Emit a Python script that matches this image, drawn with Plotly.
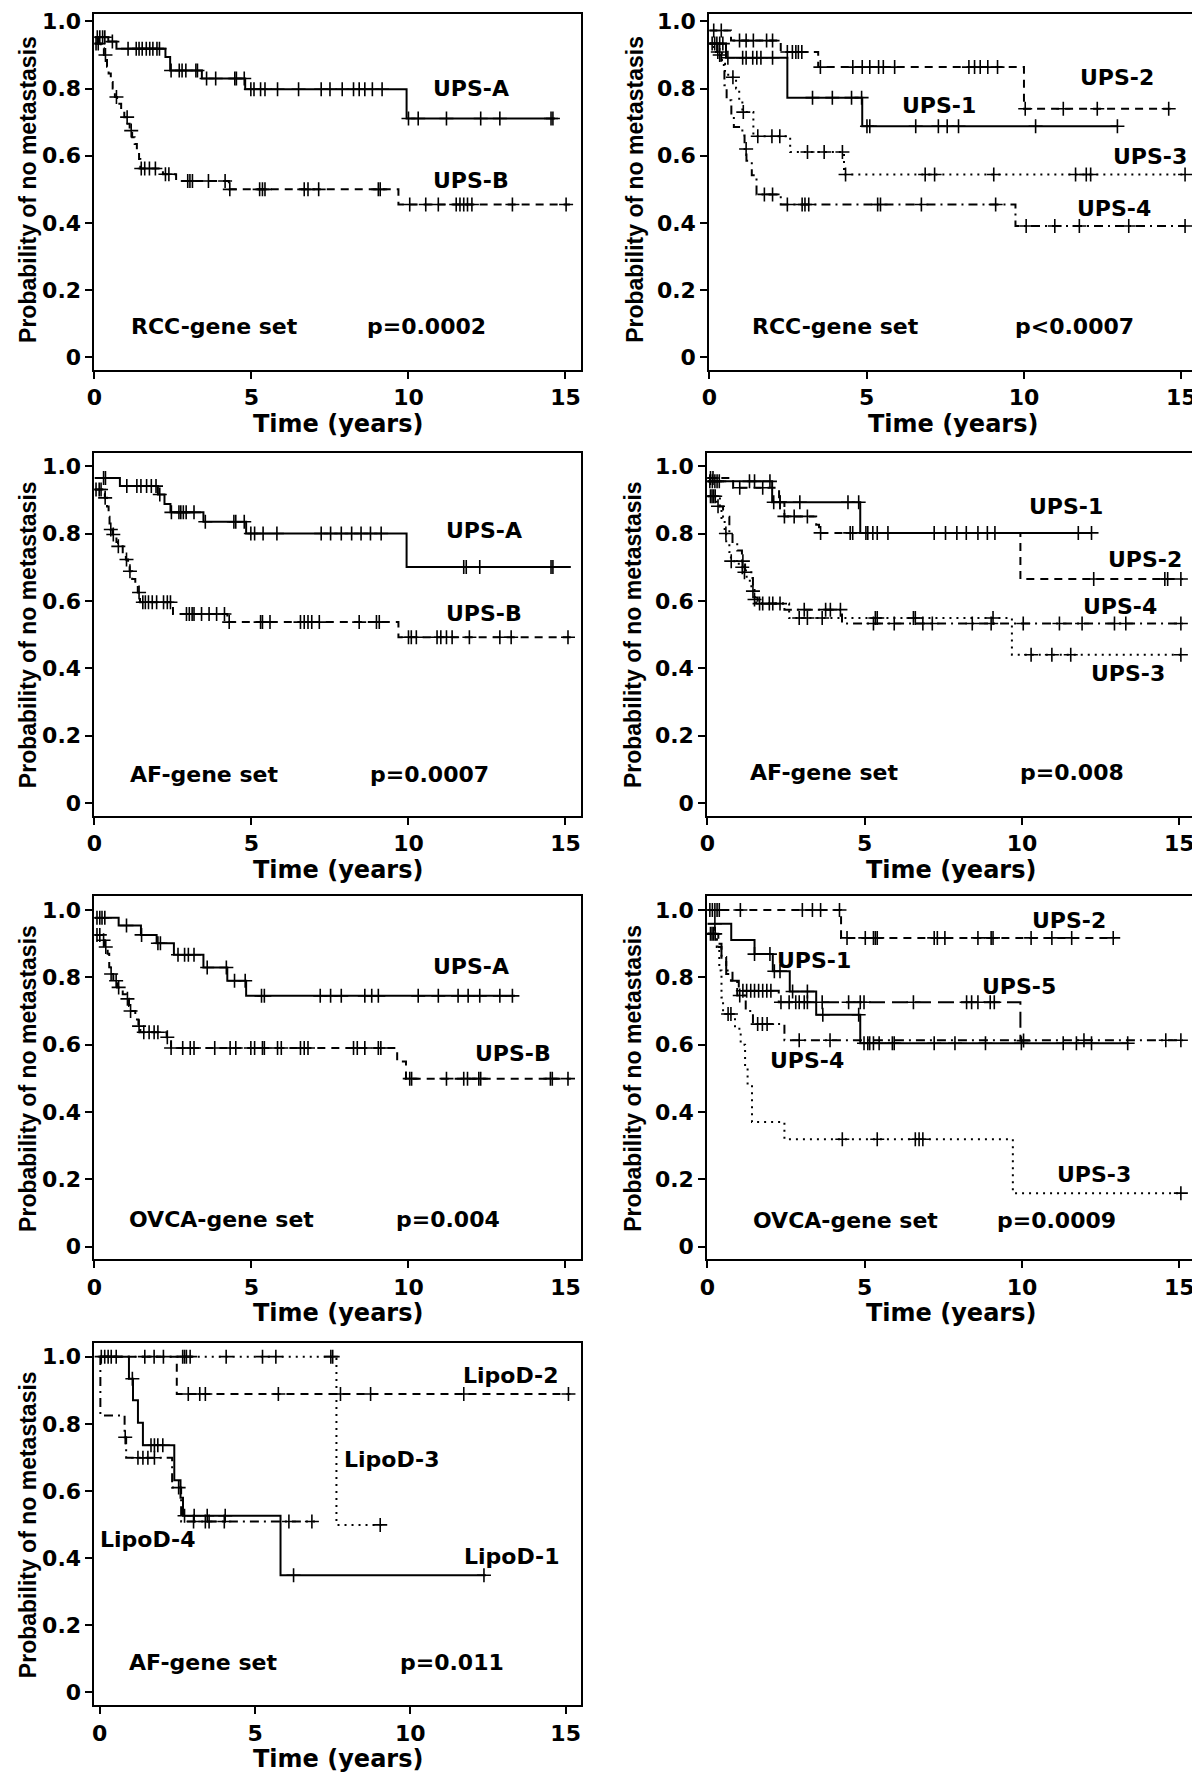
import numpy as np
import plotly.graph_objects as go

# ------------------------------------------------------------------
# DATA  (Kaplan-Meier steps: event times, survival after event,
#        censoring times, end of follow-up)
# ------------------------------------------------------------------
# Panel 1 : RCC-gene set, 2 groups
P1_A_TIME = [0, 0.44, 0.70, 2.26, 2.41, 3.42, 4.80, 9.94]
P1_A_SURV = [0.953, 0.940, 0.919, 0.894, 0.854, 0.830, 0.798, 0.711]
P1_A_CENS = [0.09, 0.17, 0.26, 0.33, 0.57, 1.07, 1.33, 1.42, 1.52, 1.65, 1.76, 1.86, 1.99, 2.07,
             2.44, 2.70, 2.79, 2.91, 3.23, 3.28, 3.57, 3.86, 4.47, 4.52, 4.77, 4.98, 5.08, 5.29,
             5.43, 5.83, 6.50, 7.22, 7.50, 7.89, 8.25, 8.43, 8.61, 8.85, 9.16, 10.0, 10.31, 11.21,
             12.30, 12.91, 14.54, 14.60]
P1_A_END = 14.66
P1_B_TIME = [0, 0.20, 0.30, 0.40, 0.45, 0.52, 0.58, 0.65, 0.72, 0.85, 0.95, 1.05, 1.12, 1.20,
             1.28, 1.35, 1.42, 1.46, 2.18, 2.60, 4.28, 9.68]
P1_B_SURV = [0.934, 0.920, 0.900, 0.865, 0.845, 0.820, 0.800, 0.775, 0.755, 0.735, 0.715, 0.695,
             0.675, 0.655, 0.635, 0.615, 0.590, 0.562, 0.545, 0.525, 0.500, 0.455]
P1_B_CENS = [0.05, 0.12, 0.35, 0.70, 1.04, 1.17, 1.49, 1.60, 1.75, 1.94, 2.26, 2.37, 2.97, 3.04,
             3.12, 3.63, 4.16, 4.31, 5.26, 5.35, 5.43, 6.68, 6.80, 7.14, 9.04, 9.10, 10.04, 10.55,
             10.95, 11.52, 11.64, 11.76, 11.88, 12.02, 13.31, 15.02]
P1_B_END = 15.14

# Panel 2 : RCC-gene set, 4 groups
P2_1_TIME = [0, 0.53, 2.48, 4.86]
P2_1_SURV = [0.934, 0.892, 0.773, 0.688]
P2_1_CENS = [0.09, 0.17, 0.24, 0.33, 0.43, 0.59, 1.06, 1.17, 1.38, 1.51, 1.64, 2.01, 3.28, 3.91,
             4.52, 4.84, 5.01, 5.10, 6.56, 7.28, 7.56, 7.92, 10.37, 12.97]
P2_1_END = 12.99
P2_2_TIME = [0, 0.69, 2.27, 3.46, 10.0]
P2_2_SURV = [0.973, 0.943, 0.909, 0.864, 0.740]
P2_2_CENS = [0.14, 0.38, 0.96, 1.17, 1.40, 1.82, 2.01, 2.48, 2.64, 2.75, 2.83, 2.94, 3.53, 4.56,
             4.86, 5.10, 5.38, 5.53, 5.89, 8.25, 8.43, 8.61, 8.85, 9.16, 10.04, 11.25, 12.33, 14.60]
P2_2_END = 14.66
P2_3_TIME = [0, 0.15, 0.40, 0.50, 0.60, 0.85, 0.95, 1.05, 1.40, 2.57, 4.28]
P2_3_SURV = [0.934, 0.909, 0.874, 0.850, 0.834, 0.800, 0.770, 0.730, 0.658, 0.611, 0.544]
P2_3_CENS = [0.27, 0.75, 1.08, 1.54, 1.99, 2.24, 3.12, 3.65, 4.23, 4.33, 6.86, 7.16, 9.04, 11.64,
             11.98, 12.12, 15.12]
P2_3_END = 15.12
P2_4_TIME = [0, 0.25, 0.38, 0.48, 0.55, 0.70, 0.78, 1.05, 1.12, 1.18, 1.35, 1.50, 2.27, 9.73]
P2_4_SURV = [0.934, 0.900, 0.870, 0.810, 0.765, 0.720, 0.686, 0.660, 0.620, 0.585, 0.542, 0.485,
             0.455, 0.391]
P2_4_CENS = [0.33, 1.17, 1.75, 2.01, 2.48, 2.95, 3.04, 3.16, 5.35, 5.44, 6.74, 9.10, 10.07, 10.98,
             11.76, 13.33, 15.12]
P2_4_END = 15.14

# Panel 3 : AF-gene set, 2 groups
P3_A_TIME = [0, 0.81, 2.02, 2.23, 2.42, 3.47, 4.83, 9.94]
P3_A_SURV = [0.965, 0.941, 0.916, 0.888, 0.863, 0.835, 0.800, 0.701]
P3_A_CENS = [0.29, 0.35, 1.03, 1.35, 1.48, 1.66, 1.81, 1.96, 2.08, 2.45, 2.69, 2.75, 2.83, 2.92,
             3.17, 3.53, 4.44, 4.50, 4.77, 4.98, 5.10, 5.37, 5.81, 7.22, 7.52, 7.86, 8.19, 8.49,
             8.79, 9.13, 11.76, 11.84, 12.27, 14.54, 14.60]
P3_A_END = 15.17
P3_B_TIME = [0, 0.25, 0.33, 0.40, 0.45, 0.48, 0.51, 0.58, 0.70, 0.75, 0.90, 1.00, 1.07, 1.12,
             1.20, 1.30, 1.38, 1.45, 2.50, 4.23, 9.68]
P3_B_SURV = [0.931, 0.918, 0.906, 0.880, 0.850, 0.830, 0.812, 0.797, 0.775, 0.762, 0.740, 0.723,
             0.700, 0.688, 0.665, 0.645, 0.625, 0.596, 0.561, 0.537, 0.492]
P3_B_CENS = [0.05, 0.15, 0.21, 0.34, 0.52, 0.60, 0.76, 1.02, 1.13, 1.42, 1.54, 1.62, 1.72, 1.84,
             1.98, 2.20, 2.32, 2.42, 2.93, 3.02, 3.11, 3.17, 3.41, 3.65, 3.89, 4.14, 4.29, 5.29,
             5.35, 5.59, 6.56, 6.68, 6.80, 6.92, 7.16, 8.43, 8.98, 9.07, 10.0, 10.09, 10.25, 10.91,
             11.03, 11.21, 11.39, 11.94, 12.91, 13.27, 15.08]
P3_B_END = 15.17

# Panel 4 : AF-gene set, 4 groups
P4_1_TIME = [0, 2.06, 4.86]
P4_1_SURV = [0.955, 0.893, 0.802]
P4_1_CENS = [0.08, 0.16, 0.24, 0.31, 0.38, 1.34, 1.50, 1.99, 2.11, 2.31, 2.94, 4.47, 4.81, 5.04,
             5.26, 5.74, 7.21, 7.93, 8.60, 9.14, 11.79, 12.21]
P4_1_END = 12.21
P4_2_TIME = [0, 0.82, 2.28, 2.45, 3.46, 3.55, 9.95]
P4_2_SURV = [0.965, 0.936, 0.893, 0.851, 0.826, 0.802, 0.665]
P4_2_CENS = [0.10, 0.18, 1.03, 1.76, 2.31, 2.45, 2.76, 3.18, 3.60, 4.54, 4.62, 5.10, 5.40, 7.57,
             8.23, 8.90, 12.28, 14.54, 14.63, 15.05]
P4_2_END = 15.11
P4_3_TIME = [0, 0.30, 0.45, 0.55, 0.60, 0.70, 0.75, 1.00, 1.13, 1.25, 1.40, 1.50, 1.55, 2.60, 9.68]
P4_3_SURV = [0.911, 0.881, 0.840, 0.800, 0.774, 0.745, 0.718, 0.700, 0.685, 0.660, 0.629, 0.604,
             0.592, 0.549, 0.440]
P4_3_CENS = [0.10, 0.20, 0.34, 0.59, 0.76, 1.11, 1.18, 1.45, 1.50, 1.66, 1.97, 2.92, 3.18, 3.65,
             5.34, 5.40, 6.55, 6.61, 9.08, 10.29, 10.95, 11.55, 15.05]
P4_3_END = 15.11
P4_4_TIME = [0, 0.40, 0.50, 0.70, 0.80, 0.95, 1.10, 1.20, 1.40, 1.45, 1.50, 1.60, 2.45, 4.28]
P4_4_SURV = [0.911, 0.880, 0.850, 0.800, 0.775, 0.750, 0.718, 0.690, 0.668, 0.640, 0.610, 0.592,
             0.574, 0.533]
P4_4_CENS = [0.15, 0.25, 1.13, 1.76, 2.08, 2.31, 3.08, 3.76, 3.91, 4.23, 5.28, 5.94, 6.85, 7.15,
             8.42, 9.02, 10.04, 11.19, 11.91, 12.94, 13.30, 15.05]
P4_4_END = 15.11

# Panel 5 : OVCA-gene set, 2 groups
P5_A_TIME = [0, 0.77, 1.48, 1.98, 2.53, 3.47, 4.23, 4.83]
P5_A_SURV = [0.977, 0.954, 0.926, 0.901, 0.867, 0.829, 0.790, 0.745]
P5_A_CENS = [0.08, 0.17, 0.24, 0.33, 1.02, 1.50, 2.02, 2.10, 2.66, 2.87, 2.99, 3.17, 3.59, 4.20,
             4.46, 4.80, 5.32, 5.41, 7.19, 7.52, 7.86, 8.61, 8.83, 9.04, 10.31, 10.95, 11.58,
             11.90, 12.27, 12.91, 13.31]
P5_A_END = 13.39
P5_B_TIME = [0, 0.25, 0.33, 0.42, 0.47, 0.52, 0.60, 0.72, 0.90, 1.02, 1.10, 1.14, 1.30, 1.40,
             1.46, 2.30, 2.44, 9.64, 9.92]
P5_B_SURV = [0.926, 0.910, 0.890, 0.870, 0.830, 0.810, 0.790, 0.770, 0.750, 0.736, 0.715, 0.700,
             0.675, 0.655, 0.637, 0.622, 0.590, 0.550, 0.499]
P5_B_CENS = [0.08, 0.17, 0.29, 0.36, 0.53, 0.69, 0.77, 1.05, 1.15, 1.42, 1.57, 1.74, 1.90, 2.02,
             2.32, 2.44, 2.81, 3.05, 3.17, 3.83, 4.32, 4.50, 4.98, 5.10, 5.35, 5.41, 5.83, 5.95,
             6.56, 6.68, 6.80, 8.25, 8.37, 8.61, 9.04, 9.12, 10.04, 10.10, 11.21, 11.76, 11.88,
             12.24, 12.30, 14.52, 14.58, 15.08]
P5_B_END = 15.17

# Panel 6 : OVCA-gene set, 5 groups
P6_1_TIME = [0, 0.76, 1.50, 2.08, 2.62, 3.46, 4.86]
P6_1_SURV = [0.959, 0.911, 0.869, 0.818, 0.758, 0.689, 0.604]
P6_1_CENS = [0.24, 1.50, 1.99, 2.13, 2.31, 2.71, 3.18, 3.67, 4.81, 4.98, 5.10, 5.16, 5.28, 5.46,
             5.88, 5.94, 7.21, 7.87, 8.84, 9.98, 11.31, 11.73, 12.21, 13.36]
P6_1_END = 13.39
P6_2_TIME = [0, 4.25]
P6_2_SURV = [1.0, 0.917]
P6_2_CENS = [0.08, 0.16, 0.24, 0.31, 0.38, 1.05, 3.02, 3.34, 3.60, 4.20, 4.44, 5.02, 5.28, 5.34,
             5.40, 7.21, 7.31, 7.55, 8.60, 9.02, 9.08, 10.29, 10.95, 11.58, 12.90]
P6_2_END = 12.94
P6_3_TIME = [0, 0.30, 0.38, 0.45, 0.50, 0.88, 1.06, 1.20, 1.28, 1.42, 2.45, 9.71]
P6_3_SURV = [0.929, 0.890, 0.820, 0.740, 0.691, 0.647, 0.600, 0.530, 0.480, 0.370, 0.319, 0.159]
P6_3_CENS = [0.66, 0.75, 4.29, 5.40, 6.61, 6.73, 6.85, 15.05]
P6_3_END = 15.05
P6_4_TIME = [0, 0.30, 0.45, 0.60, 0.80, 0.95, 1.22, 1.45, 2.45]
P6_4_SURV = [0.929, 0.900, 0.860, 0.820, 0.790, 0.746, 0.700, 0.661, 0.613]
P6_4_CENS = [0.10, 0.20, 1.03, 1.60, 1.75, 1.90, 2.92, 3.90, 11.97, 14.57, 15.05]
P6_4_END = 15.11
P6_5_TIME = [0, 0.35, 0.45, 0.60, 0.75, 1.00, 2.27, 9.95]
P6_5_SURV = [0.929, 0.890, 0.850, 0.810, 0.790, 0.760, 0.726, 0.612]
P6_5_CENS = [0.15, 0.25, 1.13, 1.25, 1.38, 1.50, 1.63, 1.76, 1.89, 2.02, 2.34, 2.60, 2.81, 2.92,
             3.08, 3.18, 3.65, 4.49, 4.86, 4.98, 6.55, 8.24, 8.40, 8.60, 8.99, 9.12, 10.05]
P6_5_END = 10.05

# Panel 7 : AF-gene set, liposarcoma groups
P7_1_TIME = [0, 0.94, 1.07, 1.23, 1.39, 2.40, 2.60, 2.68, 5.82]
P7_1_SURV = [1.0, 0.934, 0.870, 0.803, 0.736, 0.632, 0.580, 0.526, 0.349]
P7_1_CENS = [0.05, 0.16, 0.27, 0.37, 0.53, 1.05, 1.65, 1.76, 1.87, 2.03, 2.73, 3.04, 3.46, 4.04,
             6.24, 12.37]
P7_1_END = 12.43
P7_2_TIME = [0, 2.48]
P7_2_SURV = [1.0, 0.889]
P7_2_CENS = [1.45, 1.75, 2.05, 2.85, 3.22, 3.40, 5.75, 7.75, 8.72, 11.72, 15.09]
P7_2_END = 15.15
P7_3_TIME = [0, 7.62]
P7_3_SURV = [1.0, 0.499]
P7_3_CENS = [2.67, 2.73, 2.79, 2.91, 4.07, 5.24, 5.67, 7.44, 7.50, 9.03]
P7_3_END = 9.09
P7_4_TIME = [0, 0.02, 0.80, 0.85, 2.33, 2.62]
P7_4_SURV = [1.0, 0.825, 0.760, 0.699, 0.610, 0.509]
P7_4_CENS = [0.82, 1.23, 1.39, 1.55, 1.76, 2.54, 3.02, 3.40, 3.52, 4.01, 6.09, 6.83]
P7_4_END = 6.93

X_TICKS = [0, 5, 10, 15]
Y_TICKS = [0, 0.2, 0.4, 0.6, 0.8, 1.0]
Y_TICK_TEXT = ["0", "0.2", "0.4", "0.6", "0.8", "1.0"]
X_TITLE = "Time (years)"
Y_TITLE = "Probability of no metastasis"

# ------------------------------------------------------------------
# PANEL DEFINITIONS (curves + in-plot labels)
# ------------------------------------------------------------------
PANELS = [
    dict(curves=[(P1_A_TIME, P1_A_SURV, P1_A_CENS, P1_A_END, "solid"),
                 (P1_B_TIME, P1_B_SURV, P1_B_CENS, P1_B_END, "dash")],
         labels=[("UPS-A", 12.0, 0.80), ("UPS-B", 12.0, 0.527),
                 ("RCC-gene set", 3.83, 0.091), ("p=0.0002", 10.57, 0.091)],
         xr=[0, 15.5]),
    dict(curves=[(P2_1_TIME, P2_1_SURV, P2_1_CENS, P2_1_END, "solid"),
                 (P2_2_TIME, P2_2_SURV, P2_2_CENS, P2_2_END, "dash"),
                 (P2_3_TIME, P2_3_SURV, P2_3_CENS, P2_3_END, "dot"),
                 (P2_4_TIME, P2_4_SURV, P2_4_CENS, P2_4_END, "dashdot")],
         labels=[("UPS-2", 12.97, 0.834), ("UPS-1", 7.31, 0.75), ("UPS-3", 14.0, 0.597),
                 ("UPS-4", 12.85, 0.443), ("RCC-gene set", 4.02, 0.091), ("p<0.0007", 11.6, 0.091)],
         xr=[0, 15.5]),
    dict(curves=[(P3_A_TIME, P3_A_SURV, P3_A_CENS, P3_A_END, "solid"),
                 (P3_B_TIME, P3_B_SURV, P3_B_CENS, P3_B_END, "dash")],
         labels=[("UPS-A", 12.42, 0.81), ("UPS-B", 12.42, 0.564),
                 ("AF-gene set", 3.5, 0.084), ("p=0.0007", 10.67, 0.084)],
         xr=[0, 15.5]),
    dict(curves=[(P4_1_TIME, P4_1_SURV, P4_1_CENS, P4_1_END, "solid"),
                 (P4_2_TIME, P4_2_SURV, P4_2_CENS, P4_2_END, "dash"),
                 (P4_3_TIME, P4_3_SURV, P4_3_CENS, P4_3_END, "dot"),
                 (P4_4_TIME, P4_4_SURV, P4_4_CENS, P4_4_END, "dashdot")],
         labels=[("UPS-1", 11.4, 0.881), ("UPS-2", 13.9, 0.723), ("UPS-4", 13.1, 0.583),
                 ("UPS-3", 13.36, 0.385), ("AF-gene set", 3.70, 0.089), ("p=0.008", 11.59, 0.089)],
         xr=[0, 15.5]),
    dict(curves=[(P5_A_TIME, P5_A_SURV, P5_A_CENS, P5_A_END, "solid"),
                 (P5_B_TIME, P5_B_SURV, P5_B_CENS, P5_B_END, "dash")],
         labels=[("UPS-A", 12.0, 0.832), ("UPS-B", 13.33, 0.575),
                 ("OVCA-gene set", 4.04, 0.081), ("p=0.004", 11.27, 0.081)],
         xr=[0, 15.5]),
    dict(curves=[(P6_1_TIME, P6_1_SURV, P6_1_CENS, P6_1_END, "solid"),
                 (P6_2_TIME, P6_2_SURV, P6_2_CENS, P6_2_END, "dash"),
                 (P6_3_TIME, P6_3_SURV, P6_3_CENS, P6_3_END, "dot"),
                 (P6_4_TIME, P6_4_SURV, P6_4_CENS, P6_4_END, "dashdot"),
                 (P6_5_TIME, P6_5_SURV, P6_5_CENS, P6_5_END, "longdash")],
         labels=[("UPS-2", 11.49, 0.968), ("UPS-1", 3.38, 0.849), ("UPS-5", 9.92, 0.772),
                 ("UPS-4", 3.18, 0.552), ("UPS-3", 12.3, 0.213),
                 ("OVCA-gene set", 4.40, 0.079), ("p=0.0009", 11.1, 0.079)],
         xr=[0, 15.5]),
    dict(curves=[(P7_1_TIME, P7_1_SURV, P7_1_CENS, P7_1_END, "solid"),
                 (P7_2_TIME, P7_2_SURV, P7_2_CENS, P7_2_END, "dash"),
                 (P7_3_TIME, P7_3_SURV, P7_3_CENS, P7_3_END, "dot"),
                 (P7_4_TIME, P7_4_SURV, P7_4_CENS, P7_4_END, "dashdot")],
         labels=[("LipoD-2", 13.24, 0.944), ("LipoD-3", 9.40, 0.695), ("LipoD-4", 1.55, 0.455),
                 ("LipoD-1", 13.28, 0.405), ("AF-gene set", 3.33, 0.089), ("p=0.011", 11.35, 0.089)],
         xr=[-0.17, 15.5]),
]

# ------------------------------------------------------------------
# LAYOUT / STYLE   (page body has an 8px margin -> figure is offset)
# ------------------------------------------------------------------
OFF = 8
W, H = 1200 - OFF, 1777 - OFF
BOXES = [(87, 577, 3, 366), (706, 1197, 3, 366),
         (87, 577, 449, 813), (704, 1195, 449, 813),
         (87, 577, 894, 1258), (704, 1195, 894, 1258),
         (87, 577, 1342, 1705)]
Y_RANGE = [-0.038, 1.04]
DASH = {"solid": "solid", "dash": "8px,6px", "dot": "2px,5px",
        "dashdot": "9px,5px,2px,5px", "longdash": "16px,7px"}
FONT_H = "DejaVu Sans"
FONT_V = "Liberation Sans"
INK = "black"


def fx(px):
    return min(max((px - OFF) / W, 0), 1)


def fy(py):
    return min(max(1 - (py - OFF) / H, 0), 1)


fig = go.Figure()
annotations = []
layout = dict(width=W, height=H, margin=dict(l=0, r=0, t=0, b=0),
              paper_bgcolor="white", plot_bgcolor="white", showlegend=False)

for i, (panel, box) in enumerate(zip(PANELS, BOXES)):
    n = i + 1
    xa = "x" if n == 1 else f"x{n}"
    ya = "y" if n == 1 else f"y{n}"
    l, r, t, b = box
    # keep value->pixel mapping when the box top must be clipped by the page offset
    ppu = (b - t) / (Y_RANGE[1] - Y_RANGE[0])
    t_eff = max(t, OFF + 1)
    y_top = Y_RANGE[1] - (t_eff - t) / ppu
    for times, surv, cens, end, style in panel["curves"]:
        xs = list(times) + [end]
        ys = list(surv) + [surv[-1]]
        fig.add_trace(go.Scatter(x=xs, y=ys, mode="lines", xaxis=xa, yaxis=ya,
                                 line=dict(color=INK, width=2, shape="hv", dash=DASH[style]),
                                 hoverinfo="skip"))
        t_arr = np.array(times)
        s_arr = np.array(surv)
        c_arr = np.array(cens)
        idx = np.searchsorted(t_arr, c_arr, side="right") - 1
        fig.add_trace(go.Scatter(x=c_arr, y=s_arr[idx], mode="markers", xaxis=xa, yaxis=ya,
                                 marker=dict(symbol="cross-thin", size=10,
                                             line=dict(color=INK, width=1.6)),
                                 hoverinfo="skip"))
    axis_common = dict(showline=True, mirror=True, linecolor=INK, linewidth=2,
                       ticks="outside", ticklen=7, tickwidth=2, tickcolor=INK,
                       showgrid=False, zeroline=False, ticklabeloverflow="allow",
                       tickfont=dict(family=FONT_H, size=22, color=INK, weight="bold"))
    layout["xaxis" if n == 1 else f"xaxis{n}"] = dict(
        axis_common, domain=[fx(l), fx(r)], range=panel["xr"], anchor=ya,
        tickvals=X_TICKS)
    layout["yaxis" if n == 1 else f"yaxis{n}"] = dict(
        axis_common, domain=[fy(b), fy(t_eff)], range=[Y_RANGE[0], y_top], anchor=xa,
        tickvals=Y_TICKS, ticktext=Y_TICK_TEXT)
    for txt, lx, ly in panel["labels"]:
        annotations.append(dict(text=txt, x=lx, y=ly, xref=xa, yref=ya, showarrow=False,
                                xanchor="center", yanchor="middle",
                                font=dict(family=FONT_H, size=22, color=INK, weight="bold")))
    # axis titles
    annotations.append(dict(text=X_TITLE, x=fx((l + r) / 2), y=fy(b + 54),
                            xref="paper", yref="paper", showarrow=False,
                            xanchor="center", yanchor="middle",
                            font=dict(family=FONT_H, size=24, color=INK, weight="bold")))
    annotations.append(dict(text=Y_TITLE, x=fx(max(l - 75, OFF + 12)), y=fy((t + b) / 2),
                            xref="paper", yref="paper", showarrow=False, textangle=-90,
                            xanchor="center", yanchor="middle",
                            font=dict(family=FONT_V, size=23, color=INK, weight="bold")))

layout["annotations"] = annotations
fig.update_layout(**layout)
fig.write_html("out.html")
